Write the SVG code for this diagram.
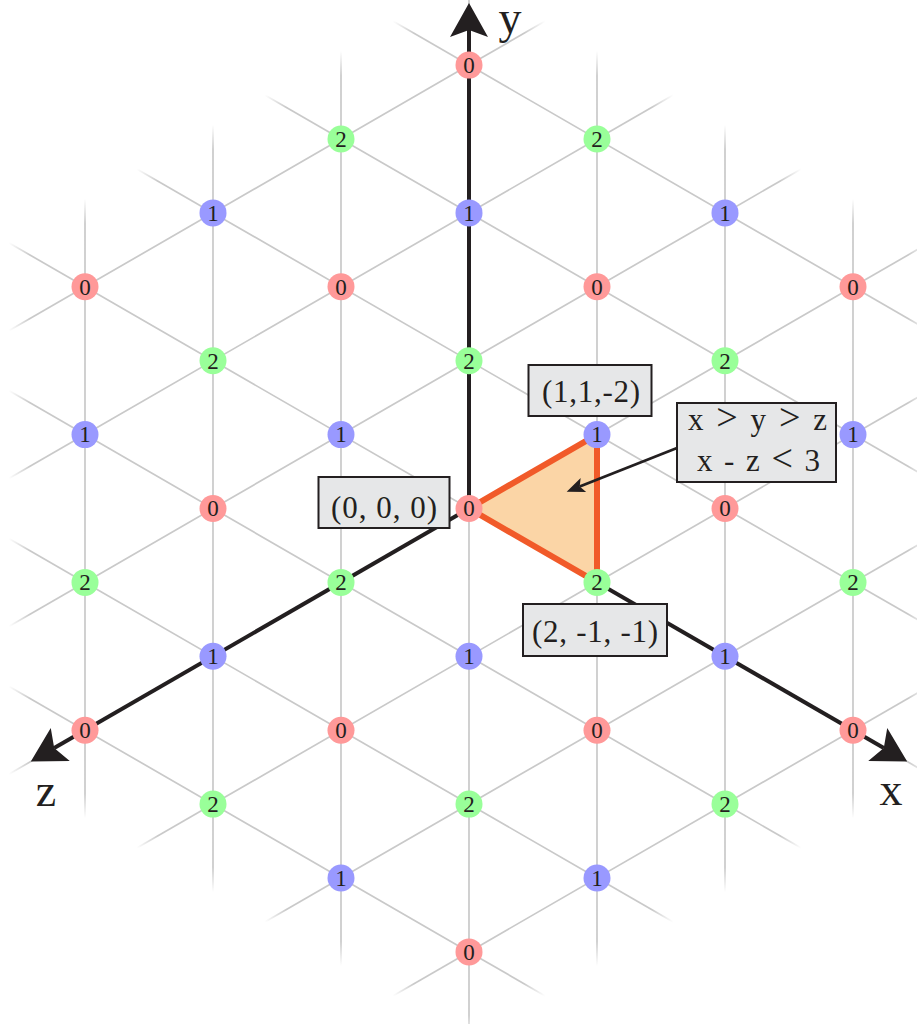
<svg xmlns="http://www.w3.org/2000/svg" width="917" height="1024" viewBox="0 0 917 1024">
<style>
.grid{fill:none;stroke:#c9c9c9;stroke-width:1.7}
.axis{fill:none;stroke:#231f20;stroke-width:4}
.ptr{fill:none;stroke:#231f20;stroke-width:2.8}
.c0{fill:#ff9999}
.c1{fill:#9999ff}
.c2{fill:#99ff99}
.nl{font-family:"Liberation Serif","DejaVu Serif",serif;font-size:23px;fill:#231f20;text-anchor:middle}
.box{fill:#e6e7e8;stroke:#231f20;stroke-width:2}
.bt{font-family:"Liberation Serif","DejaVu Serif",serif;font-size:31px;fill:#231f20;text-anchor:middle}
.op{font-size:38px}
.ax{font-family:"Liberation Serif","DejaVu Serif",serif;font-size:46px;fill:#231f20;text-anchor:middle}
.tri{fill:#fbd5a6;stroke:#f15a29;stroke-width:6;stroke-linejoin:round}
</style>
<defs>
<linearGradient id="fade" x1="0" y1="0" x2="1" y2="0">
<stop offset="0" stop-color="#c9c9c9" stop-opacity="1"/>
<stop offset="0.72" stop-color="#c9c9c9" stop-opacity="1"/>
<stop offset="1" stop-color="#c9c9c9" stop-opacity="0"/>
</linearGradient>
<rect id="stub" x="0" y="-0.85" width="88" height="1.7" fill="url(#fade)"/>
<marker id="ah" markerUnits="userSpaceOnUse" orient="auto" refX="0" refY="0" markerWidth="40" markerHeight="40" overflow="visible">
<path d="M27,0 L-7,-19 L0,0 L-7,19 Z" fill="#231f20"/>
</marker>
<marker id="ahs" markerUnits="userSpaceOnUse" orient="auto" refX="0" refY="0" markerWidth="20" markerHeight="20" overflow="visible">
<path d="M14,0 L-4,-7.5 L0,0 L-4,7.5 Z" fill="#231f20"/>
</marker>
</defs>
<rect width="917" height="1024" fill="#ffffff"/>
<g id="grid">
<path class="grid" d="M469,65.1V951.9 M341,139V878 M597,139V878 M213,212.9V804.1 M725,212.9V804.1 M85,286.8V730.2 M853,286.8V730.2 M469,65.1L853,286.8 M341,139L853,434.6 M213,212.9L853,582.4 M85,286.8L853,730.2 M85,434.6L725,804.1 M85,582.4L597,878 M85,730.2L469,951.9 M469,951.9L853,730.2 M341,878L853,582.4 M213,804.1L853,434.6 M85,730.2L853,286.8 M85,582.4L725,212.9 M85,434.6L597,139 M85,286.8L469,65.1"/>
<use href="#stub" transform="translate(469 65.1) rotate(-90)"/>
<use href="#stub" transform="translate(341 139) rotate(-90)"/>
<use href="#stub" transform="translate(597 139) rotate(-90)"/>
<use href="#stub" transform="translate(213 212.9) rotate(-90)"/>
<use href="#stub" transform="translate(725 212.9) rotate(-90)"/>
<use href="#stub" transform="translate(85 286.8) rotate(-90)"/>
<use href="#stub" transform="translate(853 286.8) rotate(-90)"/>
<use href="#stub" transform="translate(469 951.9) rotate(90)"/>
<use href="#stub" transform="translate(341 878) rotate(90)"/>
<use href="#stub" transform="translate(597 878) rotate(90)"/>
<use href="#stub" transform="translate(213 804.1) rotate(90)"/>
<use href="#stub" transform="translate(725 804.1) rotate(90)"/>
<use href="#stub" transform="translate(85 730.2) rotate(90)"/>
<use href="#stub" transform="translate(853 730.2) rotate(90)"/>
<use href="#stub" transform="translate(469 65.1) rotate(210)"/>
<use href="#stub" transform="translate(341 139) rotate(210)"/>
<use href="#stub" transform="translate(213 212.9) rotate(210)"/>
<use href="#stub" transform="translate(85 286.8) rotate(210)"/>
<use href="#stub" transform="translate(85 434.6) rotate(210)"/>
<use href="#stub" transform="translate(85 582.4) rotate(210)"/>
<use href="#stub" transform="translate(85 730.2) rotate(210)"/>
<use href="#stub" transform="translate(853 286.8) rotate(30)"/>
<use href="#stub" transform="translate(853 434.6) rotate(30)"/>
<use href="#stub" transform="translate(853 582.4) rotate(30)"/>
<use href="#stub" transform="translate(853 730.2) rotate(30)"/>
<use href="#stub" transform="translate(725 804.1) rotate(30)"/>
<use href="#stub" transform="translate(597 878) rotate(30)"/>
<use href="#stub" transform="translate(469 951.9) rotate(30)"/>
<use href="#stub" transform="translate(469 951.9) rotate(150)"/>
<use href="#stub" transform="translate(341 878) rotate(150)"/>
<use href="#stub" transform="translate(213 804.1) rotate(150)"/>
<use href="#stub" transform="translate(85 730.2) rotate(150)"/>
<use href="#stub" transform="translate(85 582.4) rotate(150)"/>
<use href="#stub" transform="translate(85 434.6) rotate(150)"/>
<use href="#stub" transform="translate(85 286.8) rotate(150)"/>
<use href="#stub" transform="translate(853 730.2) rotate(-30)"/>
<use href="#stub" transform="translate(853 582.4) rotate(-30)"/>
<use href="#stub" transform="translate(853 434.6) rotate(-30)"/>
<use href="#stub" transform="translate(853 286.8) rotate(-30)"/>
<use href="#stub" transform="translate(725 212.9) rotate(-30)"/>
<use href="#stub" transform="translate(597 139) rotate(-30)"/>
<use href="#stub" transform="translate(469 65.1) rotate(-30)"/>
</g>
<g id="connectors">
<line class="axis" x1="469" y1="508.5" x2="469" y2="30" marker-end="url(#ah)"/>
<line class="axis" x1="469" y1="508.5" x2="883.8" y2="748" marker-end="url(#ah)"/>
<line class="axis" x1="469" y1="508.5" x2="54.2" y2="748" marker-end="url(#ah)"/>
</g>
<g id="region">
<polygon class="tri" points="469,508.5 597,434.6 597,582.4"/>
</g>
<g id="nodes">
<g id="n_85_287"><circle class="c0" cx="85" cy="286.8" r="13.5"/><text class="nl" x="85" y="294.6">0</text></g>
<g id="n_85_435"><circle class="c1" cx="85" cy="434.6" r="13.5"/><text class="nl" x="85" y="442.4">1</text></g>
<g id="n_85_582"><circle class="c2" cx="85" cy="582.4" r="13.5"/><text class="nl" x="85" y="590.2">2</text></g>
<g id="n_85_730"><circle class="c0" cx="85" cy="730.2" r="13.5"/><text class="nl" x="85" y="738">0</text></g>
<g id="n_213_213"><circle class="c1" cx="213" cy="212.9" r="13.5"/><text class="nl" x="213" y="220.7">1</text></g>
<g id="n_213_361"><circle class="c2" cx="213" cy="360.7" r="13.5"/><text class="nl" x="213" y="368.5">2</text></g>
<g id="n_213_509"><circle class="c0" cx="213" cy="508.5" r="13.5"/><text class="nl" x="213" y="516.3">0</text></g>
<g id="n_213_656"><circle class="c1" cx="213" cy="656.3" r="13.5"/><text class="nl" x="213" y="664.1">1</text></g>
<g id="n_213_804"><circle class="c2" cx="213" cy="804.1" r="13.5"/><text class="nl" x="213" y="811.9">2</text></g>
<g id="n_341_139"><circle class="c2" cx="341" cy="139" r="13.5"/><text class="nl" x="341" y="146.8">2</text></g>
<g id="n_341_287"><circle class="c0" cx="341" cy="286.8" r="13.5"/><text class="nl" x="341" y="294.6">0</text></g>
<g id="n_341_435"><circle class="c1" cx="341" cy="434.6" r="13.5"/><text class="nl" x="341" y="442.4">1</text></g>
<g id="n_341_582"><circle class="c2" cx="341" cy="582.4" r="13.5"/><text class="nl" x="341" y="590.2">2</text></g>
<g id="n_341_730"><circle class="c0" cx="341" cy="730.2" r="13.5"/><text class="nl" x="341" y="738">0</text></g>
<g id="n_341_878"><circle class="c1" cx="341" cy="878" r="13.5"/><text class="nl" x="341" y="885.8">1</text></g>
<g id="n_469_65"><circle class="c0" cx="469" cy="65.1" r="13.5"/><text class="nl" x="469" y="72.9">0</text></g>
<g id="n_469_213"><circle class="c1" cx="469" cy="212.9" r="13.5"/><text class="nl" x="469" y="220.7">1</text></g>
<g id="n_469_361"><circle class="c2" cx="469" cy="360.7" r="13.5"/><text class="nl" x="469" y="368.5">2</text></g>
<g id="n_469_509"><circle class="c0" cx="469" cy="508.5" r="13.5"/><text class="nl" x="469" y="516.3">0</text></g>
<g id="n_469_656"><circle class="c1" cx="469" cy="656.3" r="13.5"/><text class="nl" x="469" y="664.1">1</text></g>
<g id="n_469_804"><circle class="c2" cx="469" cy="804.1" r="13.5"/><text class="nl" x="469" y="811.9">2</text></g>
<g id="n_469_952"><circle class="c0" cx="469" cy="951.9" r="13.5"/><text class="nl" x="469" y="959.7">0</text></g>
<g id="n_597_139"><circle class="c2" cx="597" cy="139" r="13.5"/><text class="nl" x="597" y="146.8">2</text></g>
<g id="n_597_287"><circle class="c0" cx="597" cy="286.8" r="13.5"/><text class="nl" x="597" y="294.6">0</text></g>
<g id="n_597_435"><circle class="c1" cx="597" cy="434.6" r="13.5"/><text class="nl" x="597" y="442.4">1</text></g>
<g id="n_597_582"><circle class="c2" cx="597" cy="582.4" r="13.5"/><text class="nl" x="597" y="590.2">2</text></g>
<g id="n_597_730"><circle class="c0" cx="597" cy="730.2" r="13.5"/><text class="nl" x="597" y="738">0</text></g>
<g id="n_597_878"><circle class="c1" cx="597" cy="878" r="13.5"/><text class="nl" x="597" y="885.8">1</text></g>
<g id="n_725_213"><circle class="c1" cx="725" cy="212.9" r="13.5"/><text class="nl" x="725" y="220.7">1</text></g>
<g id="n_725_361"><circle class="c2" cx="725" cy="360.7" r="13.5"/><text class="nl" x="725" y="368.5">2</text></g>
<g id="n_725_509"><circle class="c0" cx="725" cy="508.5" r="13.5"/><text class="nl" x="725" y="516.3">0</text></g>
<g id="n_725_656"><circle class="c1" cx="725" cy="656.3" r="13.5"/><text class="nl" x="725" y="664.1">1</text></g>
<g id="n_725_804"><circle class="c2" cx="725" cy="804.1" r="13.5"/><text class="nl" x="725" y="811.9">2</text></g>
<g id="n_853_287"><circle class="c0" cx="853" cy="286.8" r="13.5"/><text class="nl" x="853" y="294.6">0</text></g>
<g id="n_853_435"><circle class="c1" cx="853" cy="434.6" r="13.5"/><text class="nl" x="853" y="442.4">1</text></g>
<g id="n_853_582"><circle class="c2" cx="853" cy="582.4" r="13.5"/><text class="nl" x="853" y="590.2">2</text></g>
<g id="n_853_730"><circle class="c0" cx="853" cy="730.2" r="13.5"/><text class="nl" x="853" y="738">0</text></g>
</g>
<g id="pointer">
<line class="ptr" x1="677" y1="448" x2="579.7" y2="486.5" marker-end="url(#ahs)"/>
</g>
<g id="box_origin">
<rect class="box" x="318.5" y="477" width="131" height="51"/>
<text class="bt" x="384" y="518" textLength="106">(0, 0, 0)</text>
</g>
<g id="box_112">
<rect class="box" x="528.5" y="365" width="123" height="51"/>
<text class="bt" x="591" y="402" textLength="98">(1,1,-2)</text>
</g>
<g id="box_211">
<rect class="box" x="523" y="604" width="144" height="52"/>
<text class="bt" x="595" y="642" textLength="126">(2, -1, -1)</text>
</g>
<g id="box_cond">
<rect class="box" x="677" y="403" width="159" height="79"/>
<text class="bt" x="757.5" y="430" textLength="139">x <tspan class="op">&gt;</tspan> y <tspan class="op">&gt;</tspan> z</text>
<text class="bt" x="758.5" y="471" textLength="123">x - z <tspan class="op">&lt;</tspan> 3</text>
</g>
<g id="axis_labels">
<text class="ax" x="510" y="33">y</text>
<text class="ax" x="891" y="805">x</text>
<text class="ax" x="46" y="806">z</text>
</g>
</svg>
